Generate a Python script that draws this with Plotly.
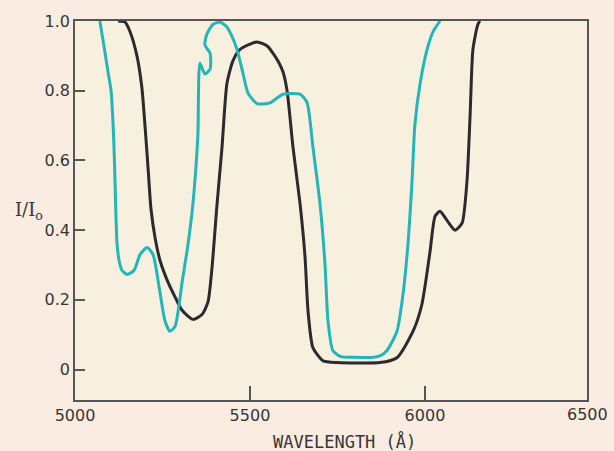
import plotly.graph_objects as go

# Teal curve (wavelength in Å, I/I0)
teal_wl = [5071, 5083, 5094, 5103, 5109, 5113, 5116, 5120, 5126, 5134, 5149, 5169, 5186, 5206,
           5223, 5243, 5257, 5271, 5286, 5306, 5323, 5337, 5351, 5357, 5371, 5386, 5386, 5371,
           5377, 5394, 5414, 5434, 5449, 5463, 5480, 5494, 5520, 5557, 5594, 5643, 5663, 5680,
           5700, 5714, 5723, 5737, 5760, 5800, 5851, 5871, 5891, 5920, 5937, 5951, 5963, 5971,
           5986, 6006, 6023, 6043]
teal_val = [1.0, 0.927, 0.856, 0.80, 0.70, 0.589, 0.476, 0.363, 0.313, 0.285, 0.273, 0.285, 0.33, 0.35,
            0.33, 0.22, 0.14, 0.11, 0.124, 0.25, 0.36, 0.476, 0.67, 0.879, 0.848, 0.862, 0.907, 0.932,
            0.963, 0.99, 0.997, 0.983, 0.955, 0.918, 0.85, 0.794, 0.763, 0.765, 0.79, 0.79, 0.766, 0.637,
            0.476, 0.307, 0.138, 0.054, 0.037, 0.035, 0.035, 0.039, 0.054, 0.11, 0.214, 0.355, 0.54, 0.70,
            0.82, 0.918, 0.969, 1.0]

# Black curve
black_wl = [5123, 5143, 5157, 5177, 5191, 5200, 5209, 5217, 5229, 5243, 5266, 5286, 5306, 5337,
            5363, 5380, 5391, 5406, 5420, 5434, 5451, 5471, 5520, 5551, 5566, 5580, 5594, 5606,
            5623, 5643, 5657, 5666, 5680, 5709, 5749, 5871, 5920, 5966, 5991, 6014, 6029, 6043,
            6063, 6086, 6106, 6120, 6129, 6137, 6151, 6157]
black_val = [1.0, 0.997, 0.97, 0.90, 0.81, 0.70, 0.575, 0.462, 0.377, 0.313, 0.25, 0.208, 0.17, 0.144,
             0.158, 0.194, 0.287, 0.476, 0.637, 0.82, 0.885, 0.918, 0.94, 0.927, 0.907, 0.885, 0.855, 0.80,
             0.637, 0.476, 0.327, 0.166, 0.062, 0.025, 0.02, 0.02, 0.034, 0.11, 0.186, 0.335, 0.44, 0.454,
             0.428, 0.40, 0.42, 0.54, 0.73, 0.918, 0.99, 1.0]

x_ticks = [5000, 5500, 6000]
x_tick_labels = ["5000", "5500", "6000"]
y_ticks = [0, 0.2, 0.4, 0.6, 0.8, 1.0]
y_tick_labels = ["0", "0.2", "0.4", "0.6", "0.8", "1.0"]

FONT = "DejaVu Sans"
TXT = "#363636"
AX = "#555555"

fig = go.Figure()
fig.add_trace(go.Scatter(x=black_wl, y=black_val, mode="lines",
                         line=dict(color="#2b2a2e", width=3, shape="spline", smoothing=0.6),
                         hoverinfo="skip"))
fig.add_trace(go.Scatter(x=teal_wl, y=teal_val, mode="lines",
                         line=dict(color="#24b5b8", width=3, shape="spline", smoothing=0.6),
                         hoverinfo="skip"))

fig.update_layout(
    width=614, height=451,
    margin=dict(l=75, r=27, t=14, b=51),
    paper_bgcolor="#faece0",
    plot_bgcolor="#f8f0de",
    showlegend=False,
    font=dict(family=FONT, color=TXT, size=16),
    xaxis=dict(range=[5000, 6463], tickvals=x_ticks, ticktext=x_tick_labels,
               ticks="inside", ticklen=14, tickwidth=1.5, tickcolor=AX,
               showline=True, linecolor=AX, linewidth=1.5, mirror=True,
               showgrid=False, zeroline=False,
               tickfont=dict(family=FONT, size=16, color=TXT)),
    yaxis=dict(range=[-0.0873, 1.0], tickvals=y_ticks, ticktext=y_tick_labels,
               ticks="inside", ticklen=10, tickwidth=1.5, tickcolor=AX,
               showline=True, linecolor=AX, linewidth=1.5, mirror=True,
               showgrid=False, zeroline=False,
               tickfont=dict(family=FONT, size=16, color=TXT)),
    annotations=[
        dict(text="6500", xref="paper", yref="paper", x=1.0, y=0, yanchor="top",
             xanchor="center", yshift=-3, showarrow=False,
             font=dict(family=FONT, size=16, color=TXT)),
        dict(text="WAVELENGTH (Å)", xref="paper", yref="paper", x=0.527, y=0, yanchor="top",
             xanchor="center", yshift=-29, showarrow=False,
             font=dict(family="DejaVu Sans Mono", size=17, color=TXT)),
        dict(text="I/I<sub>o</sub>", xref="paper", yref="paper", x=-0.09, y=0.5,
             xanchor="center", yanchor="middle", showarrow=False,
             font=dict(family="DejaVu Serif", size=18, color=TXT)),
    ],
)

fig.write_html("out.html", config={"displayModeBar": False},
               post_script="document.body.style.margin='0';document.body.style.background='#faece0';")
